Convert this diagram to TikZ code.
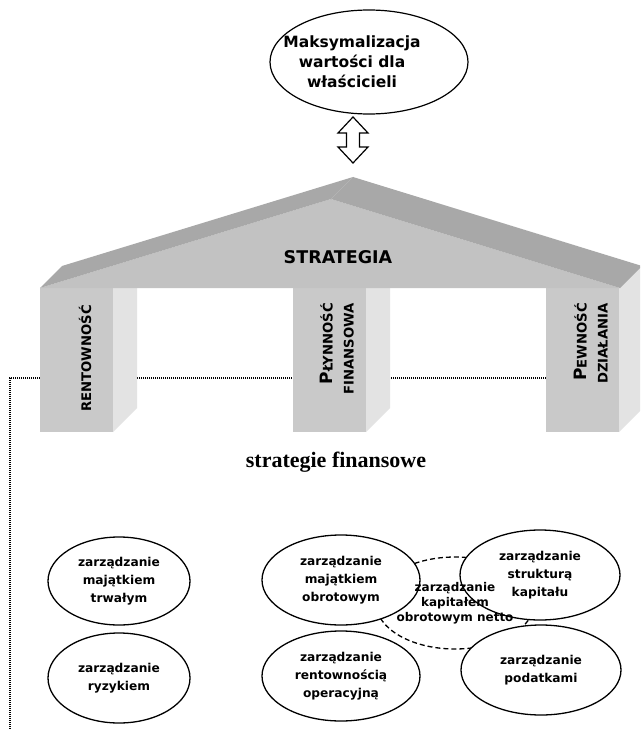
\documentclass[tikz,border=0pt]{standalone}
\usepackage{fontspec}
\setmainfont{DejaVu Sans}
\newfontfamily\titlefont{Liberation Serif}
\usetikzlibrary{shapes.geometric}

\definecolor{roofface}{gray}{0.76}
\definecolor{roofslope}{gray}{0.66}
\definecolor{pillarface}{gray}{0.79}
\definecolor{pillarside}{gray}{0.89}

\newcommand\capfirst[1]{{\fontsize{17}{21}\selectfont #1}}

\tikzset{
  goal/.style={ellipse,draw,line width=1.2pt,fill=white,inner sep=0pt,
    minimum width=198pt,minimum height=104pt},
  goaltext/.style={inner sep=0pt,align=center,
    font=\fontsize{15.5}{20}\selectfont\bfseries},
  area/.style={ellipse,draw,line width=1.3pt,fill=white,inner sep=0pt,
    minimum width=158pt,minimum height=90pt,align=center,
    font=\fontsize{12.2}{18}\selectfont\bfseries},
  areatext/.style={inner sep=0pt,align=center,
    font=\fontsize{12}{15}\selectfont\bfseries},
  pillartext/.style={rotate=90,anchor=east,align=right,inner sep=0pt,
    font=\fontsize{13.2}{21}\selectfont\bfseries},
  dotline/.style={line width=1.2pt,dash pattern=on 1.2pt off 0.8pt},
}

\begin{document}
\begin{tikzpicture}[x=1pt,y=-1pt]
    \clip (0,0) rectangle (640,730);
    \fill[white] (0,0) rectangle (640,730);

    %%%% guide line behind the columns %%%%%%%%%%%%%%%%%%%%%%%%%%%%%%%%%%%%
    \coordinate (dotstart) at (546,378);
    \coordinate (dotcorner) at (10,378);
    \coordinate (dotend) at (10,730);
    \draw[dotline] (dotstart) -- (dotcorner) -- (dotend);

    %%%% Columns %%%%%%%%%%%%%%%%%%%%%%%%%%%%%%%%%%%%%%%%%%%%%%%%%%%%%%%%%%
    \foreach \x in {40,293,546}{
      \fill[pillarface] (\x,288) rectangle ++(73,144);
      \fill[pillarside] (\x+73,288) -- ++(24,-24) -- ++(0,144)
                        -- ++(-24,24) -- cycle;
    }
    \node[pillartext] (rent) at (85,305) {RENTOWNOŚĆ};
    \node[pillartext] (plyn) at (337,303) {\capfirst{P}ŁYNNOŚĆ\\FINANSOWA};
    \node[pillartext] (pewn) at (591,303) {\capfirst{P}EWNOŚĆ\\DZIAŁANIA};

    %%%% Roof %%%%%%%%%%%%%%%%%%%%%%%%%%%%%%%%%%%%%%%%%%%%%%%%%%%%%%%%%%%%%
    \fill[roofface] (40,288) coordinate (eavesl)
      -- (331,199) coordinate (ridge)
      -- (620,288) coordinate (eavesr) -- cycle;
    \fill[roofslope] (eavesl) -- ++(22,-22) -- (353,177) coordinate (apex)
      -- (ridge) -- cycle;
    \fill[roofslope] (ridge) -- (apex) -- ++(289,89) -- (eavesr) -- cycle;
    \node[font=\fontsize{17.5}{17.5}\selectfont\bfseries] (strategy) at (338,257) {STRATEGIA};

    %%%% Goal and double arrow %%%%%%%%%%%%%%%%%%%%%%%%%%%%%%%%%%%%%%%%%%%%
    \node[goal] (goal) at (369,62) {};
    \node[goaltext] (goaltxt) at ([xshift=-17pt]goal.center)
      {Maksymalizacja\\wartości dla\\właścicieli};
    \draw[line width=1.2pt,fill=white]
         (353,117) -- ++(15,16) -- ++(-8.5,0) -- ++(0,14) -- ++(8.5,0)
      -- (353,163) -- ++(-15,-16) -- ++(8.5,0) -- ++(0,-14) -- ++(-8.5,0)
      -- cycle;

    %%%% Financial strategies %%%%%%%%%%%%%%%%%%%%%%%%%%%%%%%%%%%%%%%%%%%%%
    \node[anchor=base,font=\titlefont\fontsize{22}{22}\selectfont\bfseries]
      (finstrat) at (336,467) {strategie finansowe};

    \node[area,fill=none,dashed,dash pattern=on 5pt off 3pt,
      minimum height=92pt] (netwc) at (455,603) {};
    \node[area,minimum width=142pt,minimum height=88pt] (fixed) at (119,581)
      {zarządzanie\\majątkiem\\trwałym};
    \node[area] (current) at (341,580) {zarządzanie\\majątkiem\\obrotowym};
    \node[area,minimum width=160pt] (capital) at (540,575)
      {zarządzanie\\strukturą\\kapitału};
    \node[areatext] (netwctext) at (netwc) {zarządzanie\\kapitałem\\obrotowym netto};

    \node[area,minimum width=142pt] (risk) at (119,678) {zarządzanie\\ryzykiem};
    \node[area] (operating) at (341,676) {zarządzanie\\rentownością\\operacyjną};
    \node[area,minimum width=160pt] (taxes) at (541,670) {zarządzanie\\podatkami};
\end{tikzpicture}
\end{document}
